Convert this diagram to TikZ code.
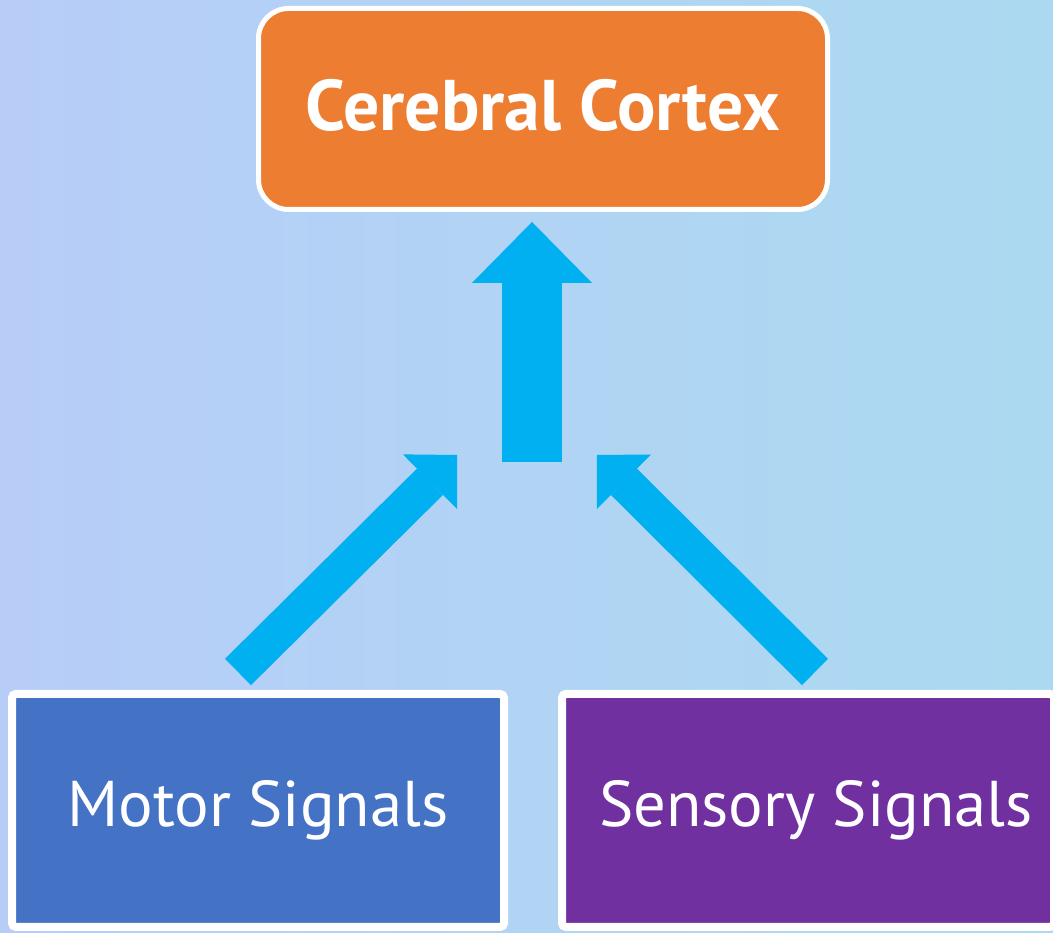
\documentclass[tikz,border=0pt]{standalone}
\usepackage{fontspec}
\setmainfont{PT Sans}
\usetikzlibrary{positioning, arrows.meta}

\definecolor{cortexorange}{HTML}{ED7D31}
\definecolor{motorblue}{HTML}{4472C4}
\definecolor{sensorypurple}{HTML}{7030A0}
\definecolor{signalcyan}{HTML}{00B0F0}
\definecolor{bgleft}{HTML}{B7CDF8}
\definecolor{bgright}{HTML}{ABDAF0}

\begin{document}
\begin{tikzpicture}[node distance=5.5cm, on grid,
    cortexbox/.style={draw=white, line width=0.05cm, fill=cortexorange, text=white,
      rounded corners=0.3cm, minimum width=5.69cm, minimum height=2.01cm, inner sep=0pt,
      font=\fontsize{20.4}{24}\selectfont\bfseries},
    signalbox/.style={draw=white, line width=0.08cm, text=white, rounded corners=0.04cm,
      minimum width=4.92cm, minimum height=2.33cm, inner sep=0pt,
      font=\fontsize{18.4}{22}\selectfont},
    mainarrow/.style={signalcyan, line width=0.6cm,
      -{Triangle[width=1.2cm, length=0.61cm, line width=0pt]}},
    sidearrow/.style={signalcyan, line width=0.37cm,
      -{Triangle[width=0.77cm, length=0.38cm, line width=0pt]}}]
   % background
   \clip (0,0) rectangle (10.53,9.33);
   \shade[left color=bgleft, right color=bgright] (0,0) rectangle (10.53,9.33);

   % boxes
   \node[cortexbox] (cortex) at (5.43,8.24) {\raisebox{0.08cm}{Cerebral Cortex}};
   \node[signalbox, fill=motorblue] (motor) at (2.58,1.225) {Motor Signals};
   \node[signalbox, fill=sensorypurple] (sensory) [right=of motor] {\hspace*{0.16cm}Sensory Signals};

   % arrow ends
   \coordinate (upstem) at (5.32,4.71);
   \coordinate (uptip) at (5.32,7.11);
   \coordinate (motorout) at (2.38,2.61);
   \coordinate (motorin) at (4.57,4.78);
   \coordinate (sensout) at (8.15,2.61);
   \coordinate (sensin) at (5.97,4.78);

   \draw[mainarrow] (upstem) -- (uptip);
   \draw[sidearrow] (motorout) -- (motorin);
   \draw[sidearrow] (sensout) -- (sensin);
\end{tikzpicture}
\end{document}
